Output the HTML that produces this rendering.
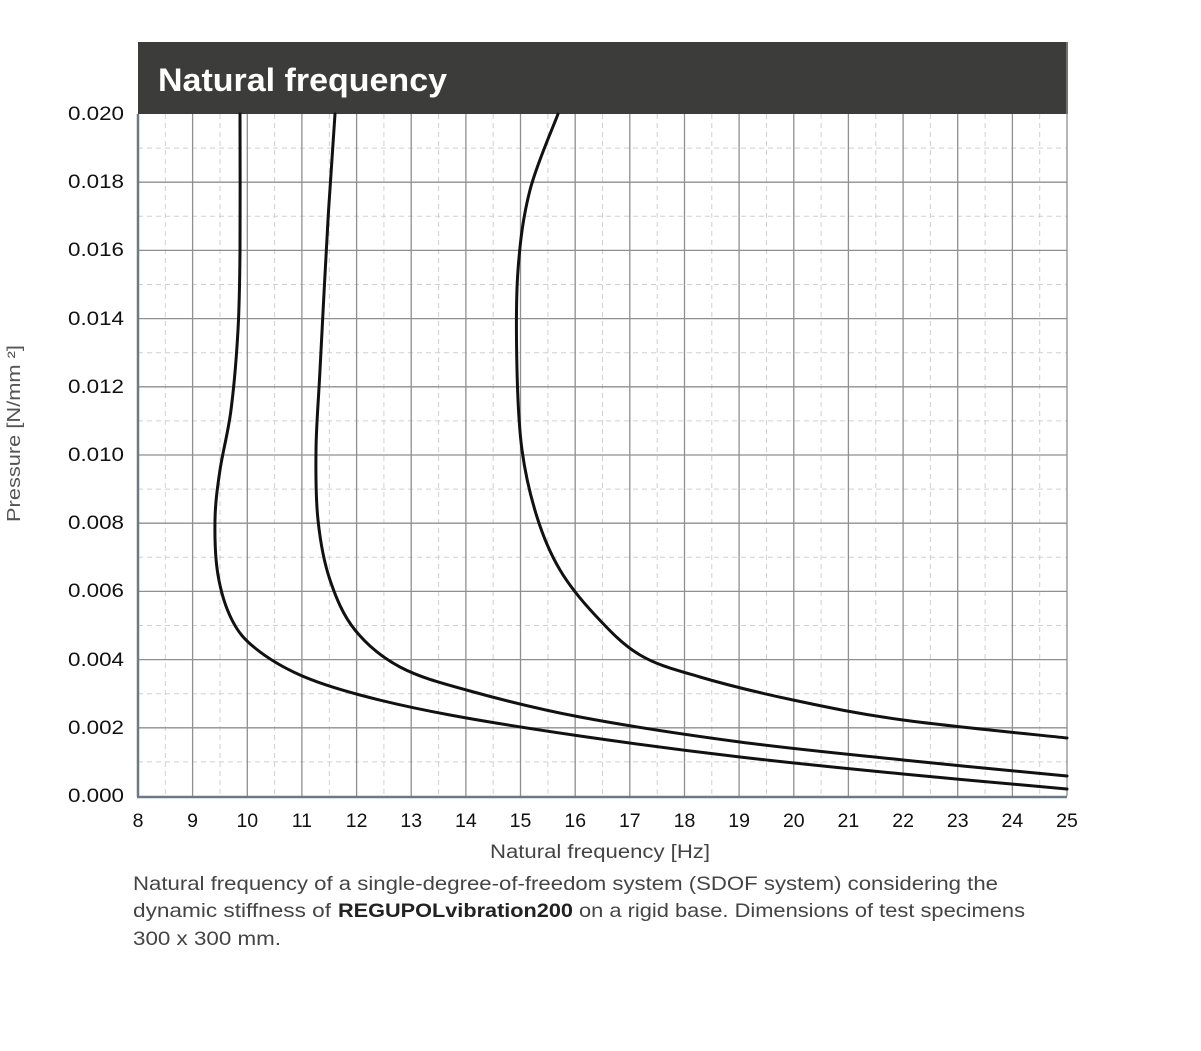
<!DOCTYPE html>
<html><head><meta charset="utf-8"><style>
body{margin:0;background:#fff;width:1201px;height:1051px;overflow:hidden;font-family:"Liberation Sans",sans-serif}
</style></head><body>
<svg width="1201" height="1051" xmlns="http://www.w3.org/2000/svg" style="position:absolute;left:0;top:0">
<rect x="138" y="42" width="930" height="72" fill="#3c3c3a"/>
<text x="158" y="91" font-size="32" font-weight="bold" fill="#fff" textLength="289" lengthAdjust="spacingAndGlyphs" font-family="Liberation Sans,sans-serif">Natural frequency</text>
<g stroke="#d0d0d0" stroke-width="1" stroke-dasharray="5,4">
<line x1="165.3" y1="114" x2="165.3" y2="796"/><line x1="220" y1="114" x2="220" y2="796"/><line x1="274.6" y1="114" x2="274.6" y2="796"/><line x1="329.3" y1="114" x2="329.3" y2="796"/><line x1="383.9" y1="114" x2="383.9" y2="796"/><line x1="438.6" y1="114" x2="438.6" y2="796"/><line x1="493.2" y1="114" x2="493.2" y2="796"/><line x1="547.9" y1="114" x2="547.9" y2="796"/><line x1="602.5" y1="114" x2="602.5" y2="796"/><line x1="657.2" y1="114" x2="657.2" y2="796"/><line x1="711.8" y1="114" x2="711.8" y2="796"/><line x1="766.5" y1="114" x2="766.5" y2="796"/><line x1="821.1" y1="114" x2="821.1" y2="796"/><line x1="875.8" y1="114" x2="875.8" y2="796"/><line x1="930.4" y1="114" x2="930.4" y2="796"/><line x1="985.1" y1="114" x2="985.1" y2="796"/><line x1="1039.7" y1="114" x2="1039.7" y2="796"/>
<line x1="138" y1="148.1" x2="1067" y2="148.1"/><line x1="138" y1="216.3" x2="1067" y2="216.3"/><line x1="138" y1="284.5" x2="1067" y2="284.5"/><line x1="138" y1="352.7" x2="1067" y2="352.7"/><line x1="138" y1="420.9" x2="1067" y2="420.9"/><line x1="138" y1="489.1" x2="1067" y2="489.1"/><line x1="138" y1="557.3" x2="1067" y2="557.3"/><line x1="138" y1="625.5" x2="1067" y2="625.5"/><line x1="138" y1="693.7" x2="1067" y2="693.7"/><line x1="138" y1="761.9" x2="1067" y2="761.9"/>
</g>
<g stroke="#8f8f8f" stroke-width="1.3">
<line x1="192.6" y1="114" x2="192.6" y2="796"/><line x1="247.3" y1="114" x2="247.3" y2="796"/><line x1="301.9" y1="114" x2="301.9" y2="796"/><line x1="356.6" y1="114" x2="356.6" y2="796"/><line x1="411.2" y1="114" x2="411.2" y2="796"/><line x1="465.9" y1="114" x2="465.9" y2="796"/><line x1="520.5" y1="114" x2="520.5" y2="796"/><line x1="575.2" y1="114" x2="575.2" y2="796"/><line x1="629.8" y1="114" x2="629.8" y2="796"/><line x1="684.5" y1="114" x2="684.5" y2="796"/><line x1="739.1" y1="114" x2="739.1" y2="796"/><line x1="793.8" y1="114" x2="793.8" y2="796"/><line x1="848.4" y1="114" x2="848.4" y2="796"/><line x1="903.1" y1="114" x2="903.1" y2="796"/><line x1="957.7" y1="114" x2="957.7" y2="796"/><line x1="1012.4" y1="114" x2="1012.4" y2="796"/><line x1="1067" y1="42" x2="1067" y2="796"/>
<line x1="138" y1="182.2" x2="1067" y2="182.2"/><line x1="138" y1="250.4" x2="1067" y2="250.4"/><line x1="138" y1="318.6" x2="1067" y2="318.6"/><line x1="138" y1="386.8" x2="1067" y2="386.8"/><line x1="138" y1="455" x2="1067" y2="455"/><line x1="138" y1="523.2" x2="1067" y2="523.2"/><line x1="138" y1="591.4" x2="1067" y2="591.4"/><line x1="138" y1="659.6" x2="1067" y2="659.6"/><line x1="138" y1="727.8" x2="1067" y2="727.8"/>
</g>
<g stroke="#6b7b85" stroke-width="2.5"><line x1="138" y1="114" x2="138" y2="797"/><line x1="137" y1="797" x2="1067" y2="797"/></g>
<g fill="none" stroke="#111" stroke-width="3" stroke-linejoin="round" stroke-linecap="round">
<path id="c1"/><path id="c2"/><path id="c3"/>
</g>
<g font-size="19.5" fill="#111" font-family="Liberation Sans,sans-serif">
<text x="68" y="120" textLength="56" lengthAdjust="spacingAndGlyphs">0.020</text><text x="68" y="188" textLength="56" lengthAdjust="spacingAndGlyphs">0.018</text><text x="68" y="256" textLength="56" lengthAdjust="spacingAndGlyphs">0.016</text><text x="68" y="325" textLength="56" lengthAdjust="spacingAndGlyphs">0.014</text><text x="68" y="393" textLength="56" lengthAdjust="spacingAndGlyphs">0.012</text><text x="68" y="461" textLength="56" lengthAdjust="spacingAndGlyphs">0.010</text><text x="68" y="529" textLength="56" lengthAdjust="spacingAndGlyphs">0.008</text><text x="68" y="597" textLength="56" lengthAdjust="spacingAndGlyphs">0.006</text><text x="68" y="666" textLength="56" lengthAdjust="spacingAndGlyphs">0.004</text><text x="68" y="734" textLength="56" lengthAdjust="spacingAndGlyphs">0.002</text><text x="68" y="802" textLength="56" lengthAdjust="spacingAndGlyphs">0.000</text>
</g>
<g font-size="19.5" fill="#111" text-anchor="middle" font-family="Liberation Sans,sans-serif">
<text x="138" y="827">8</text><text x="192.6" y="827">9</text><text x="247.3" y="827">10</text><text x="301.9" y="827">11</text><text x="356.6" y="827">12</text><text x="411.2" y="827">13</text><text x="465.9" y="827">14</text><text x="520.5" y="827">15</text><text x="575.2" y="827">16</text><text x="629.8" y="827">17</text><text x="684.5" y="827">18</text><text x="739.1" y="827">19</text><text x="793.8" y="827">20</text><text x="848.4" y="827">21</text><text x="903.1" y="827">22</text><text x="957.7" y="827">23</text><text x="1012.4" y="827">24</text><text x="1067" y="827">25</text>
</g>
<text x="490" y="858" font-size="19" fill="#444" textLength="220" lengthAdjust="spacingAndGlyphs" font-family="Liberation Sans,sans-serif">Natural frequency [Hz]</text>
<text transform="translate(20,522) rotate(-90)" font-size="18" fill="#555" textLength="177" lengthAdjust="spacingAndGlyphs" font-family="Liberation Sans,sans-serif">Pressure [N/mm ²]</text>
<g font-size="19.5" fill="#444" font-family="Liberation Sans,sans-serif">
<text x="133" y="890" textLength="865" lengthAdjust="spacingAndGlyphs">Natural frequency of a single-degree-of-freedom system (SDOF system) considering the</text>
<text x="133" y="917" textLength="198" lengthAdjust="spacingAndGlyphs">dynamic stiffness of</text>
<text x="338" y="917" textLength="235" lengthAdjust="spacingAndGlyphs" font-weight="bold" fill="#222">REGUPOLvibration200</text>
<text x="579" y="917" textLength="446" lengthAdjust="spacingAndGlyphs">on a rigid base. Dimensions of test specimens</text>
<text x="133" y="945" textLength="148" lengthAdjust="spacingAndGlyphs">300 x 300 mm.</text>
</g>
</svg>
<script>
function cr(p){var d="M"+p[0][0]+","+p[0][1];for(var i=0;i<p.length-1;i++){var a=p[i-1]||p[i],b=p[i],c=p[i+1],e=p[i+2]||c;
d+=" C"+(b[0]+(c[0]-a[0])/6).toFixed(1)+","+(b[1]+(c[1]-a[1])/6).toFixed(1)+" "+(c[0]-(e[0]-b[0])/6).toFixed(1)+","+(c[1]-(e[1]-b[1])/6).toFixed(1)+" "+c[0]+","+c[1];}return d;}
var L=[[240,114],[240,250],[238,330],[231,410],[220,470],[215,520],[218,575],[232,620],[255,648],[300,675],[360,695],[450,715],[580,736],[740,757],[903,774],[1067,789]];
var M=[[335,114],[328,220],[320,370],[316,450],[318,520],[330,580],[355,630],[400,667],[470,691],[580,717],[740,742],[903,760],[1067,776]];
var R=[[558,114],[530,190],[518,270],[517,370],[522,450],[537,517],[560,570],[595,615],[640,655],[700,677],[793,700],[903,720],[1067,738]];
document.getElementById("c1").setAttribute("d",cr(L));
document.getElementById("c2").setAttribute("d",cr(M));
document.getElementById("c3").setAttribute("d",cr(R));
</script>
</body></html>
